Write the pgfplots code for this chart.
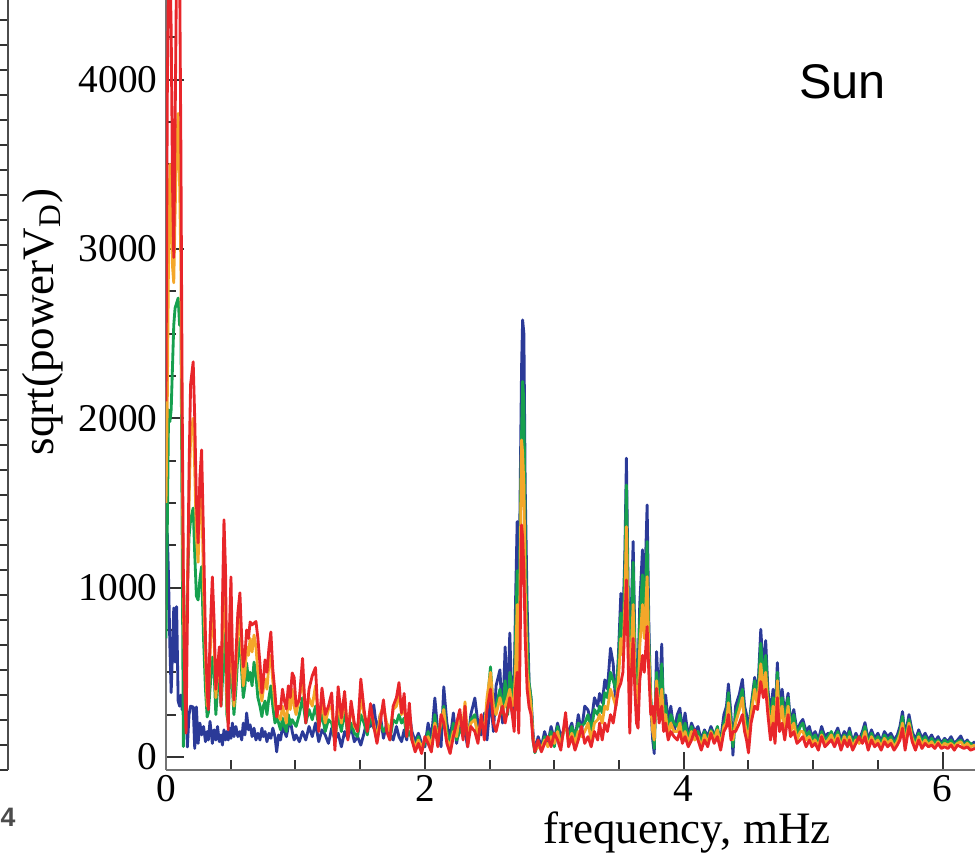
\documentclass[border=0pt]{standalone}
\usepackage{fontspec}
\setmainfont{Liberation Serif}
\newfontfamily\sunfont{Liberation Sans}
\usepackage{pgfplots}
\usepackage{pgfplotstable}
\pgfplotsset{compat=1.18}
\definecolor{cb}{HTML}{2B3A98}
\definecolor{cg}{HTML}{16A04E}
\definecolor{co}{HTML}{F4A72A}
\definecolor{cr}{HTML}{E8262A}
\pgfplotstableread{
x b g o r
0.000 900 700 1500 2100
0.010 1320 1350 2100 3900
0.020 1050 2050 3000 4700
0.030 650 1980 3500 4700
0.040 380 2050 3200 4300
0.050 620 2300 2900 3400
0.060 880 2550 2800 2950
0.070 560 2650 3200 3700
0.082 888 2680 3600 4700
0.094 330 2710 3800 4700
0.105 300 2550 3400 4700
0.115 366 2600 2900 3600
0.125 278 1300 1800 2100
0.134 330 61 900 1100
0.145 250 300 450 400
0.155 366 700 600 140
0.165 59 1000 1000 800
0.178 250 1300 1500 1700
0.190 300 1400 1900 2200
0.210 295 1470 2000 2333
0.222 50 1200 1700 2000
0.235 295 950 1300 1500
0.248 80 927 1150 1264
0.262 200 1050 1500 1650
0.275 130 1124 1650 1813
0.290 180 700 1000 1300
0.305 90 400 600 700
0.318 150 236 300 400
0.327 100 260 320 278
0.340 210 400 600 700
0.358 80 590 900 1063
0.372 160 500 700 800
0.385 100 250 350 400
0.398 180 400 500 520
0.412 90 560 600 650
0.425 130 300 350 300
0.436 70 450 700 900
0.448 160 732 1100 1400
0.460 100 600 900 1100
0.470 150 250 300 400
0.481 100 200 200 160
0.492 170 550 700 800
0.502 110 700 900 1063
0.513 200 400 500 600
0.525 120 250 300 337
0.540 180 400 500 600
0.555 120 600 750 850
0.571 150 700 850 969
0.585 100 500 600 700
0.597 200 350 420 532
0.610 130 420 500 600
0.623 260 555 650 750
0.637 160 450 600 700
0.650 190 500 700 797
0.665 120 420 620 780
0.680 170 560 720 790
0.695 100 480 650 800
0.710 140 350 500 700
0.726 100 300 400 550
0.741 170 238 330 378
0.752 120 300 400 450
0.765 150 330 460 573
0.780 90 250 400 500
0.795 140 350 550 640
0.810 110 420 600 738
0.825 170 300 450 520
0.842 120 200 300 380
0.855 30 240 260 236
0.870 130 200 240 300
0.885 100 160 220 283
0.900 180 230 300 400
0.915 150 180 250 330
0.930 120 150 200 283
0.945 180 250 350 420
0.960 220 190 280 350
0.975 150 220 400 496
0.990 100 200 300 470
1.005 130 180 250 300
1.030 90 250 350 337
1.055 150 350 450 582
1.080 100 200 250 200
1.105 180 280 348 400
1.130 120 220 300 480
1.155 200 300 420 528
1.180 90 180 200 150
1.205 160 250 320 407
1.230 130 150 200 250
1.255 80 220 280 300
1.280 170 200 300 378
1.305 100 100 80 40
1.330 140 250 330 415
1.355 60 150 200 230
1.380 150 280 350 387
1.405 110 120 150 100
1.430 180 200 300 330
1.455 90 140 180 200
1.480 120 120 160 150
1.505 70 250 350 460
1.530 140 200 250 280
1.555 220 130 180 150
1.580 180 250 280 315
1.605 307 170 200 180
1.630 150 140 100 80
1.655 250 200 250 200
1.680 110 150 300 337
1.705 200 180 200 150
1.730 140 100 150 100
1.755 100 220 280 300
1.780 180 200 300 350
1.800 120 250 380 439
1.820 90 200 250 260
1.840 160 230 300 375
1.860 100 120 150 120
1.880 260 150 250 318
1.900 150 100 120 100
1.925 90 60 50 30
1.950 140 120 100 80
1.975 80 40 60 20
2.000 60 80 100 120
2.025 200 150 120 80
2.050 100 40 60 30
2.077 348 250 200 180
2.100 150 100 120 60
2.125 60 180 200 250
2.146 414 300 280 200
2.170 200 150 100 80
2.195 100 80 60 20
2.220 260 200 150 120
2.245 80 100 120 200
2.270 200 150 250 280
2.295 120 180 200 100
2.310 150 250 325 300
2.330 60 100 120 60
2.355 250 220 200 180
2.386 348 250 220 150
2.410 200 100 130 80
2.435 130 200 220 250
2.460 260 180 150 100
2.480 100 300 350 280
2.507 350 532 500 400
2.530 150 250 300 200
2.550 420 300 250 150
2.580 514 400 350 250
2.600 200 250 280 300
2.620 650 450 300 200
2.640 300 250 350 280
2.656 732 500 400 350
2.675 250 400 300 250
2.690 400 300 350 150
2.700 900 700 500 400
2.713 1390 1100 900 500
2.725 700 600 400 140
2.735 1500 1300 1000 600
2.747 2300 1900 1872 1370
2.755 2581 2217 1800 1300
2.765 2500 2100 1600 1100
2.775 1600 1300 1000 700
2.790 900 700 500 400
2.805 437 437 400 295
2.820 350 350 300 250
2.835 150 100 120 100
2.850 30 25 40 30
2.875 120 80 60 100
2.900 60 40 50 30
2.925 150 120 100 80
2.950 80 100 60 120
2.975 180 150 120 60
3.000 100 60 80 140
3.025 200 180 150 100
3.050 120 80 60 40
3.087 180 200 220 262
3.110 150 100 80 60
3.135 200 180 140 120
3.160 100 120 80 40
3.185 250 200 150 100
3.210 150 180 120 180
3.235 300 200 150 80
3.260 278 250 200 120
3.285 200 150 100 60
3.310 350 280 200 150
3.335 300 250 220 100
3.350 375 300 250 200
3.370 320 260 200 100
3.390 455 380 300 200
3.410 400 350 280 150
3.434 642 500 400 250
3.455 550 450 350 200
3.475 300 400 300 300
3.495 600 550 450 400
3.514 966 850 700 437
3.530 800 700 600 500
3.545 1200 1100 900 800
3.557 1764 1606 1360 1045
3.570 1000 900 700 600
3.583 400 400 300 140
3.596 900 800 650 500
3.609 1272 1150 900 700
3.622 700 600 500 400
3.635 300 300 250 200
3.647 500 450 300 170
3.660 900 800 650 450
3.681 1223 1075 900 600
3.695 900 800 700 500
3.717 1488 1272 1065 770
3.730 800 700 600 500
3.745 300 350 300 250
3.760 100 200 150 300
3.772 20 50 100 200
3.790 622 500 450 405
3.810 300 300 250 200
3.830 667 550 400 300
3.845 200 250 200 150
3.860 366 300 250 200
3.880 200 150 120 100
3.900 300 250 200 150
3.925 150 200 150 120
3.950 250 180 150 100
3.970 288 250 200 150
3.990 150 120 100 80
4.010 260 200 150 120
4.035 120 100 80 60
4.060 200 180 150 100
4.085 150 120 100 160
4.110 180 150 120 100
4.135 100 80 60 40
4.160 160 150 130 100
4.185 120 100 80 60
4.210 180 160 150 140
4.235 130 120 100 80
4.260 150 180 160 120
4.285 100 80 60 40
4.310 250 200 180 150
4.330 300 250 200 180
4.345 431 380 320 250
4.365 250 200 150 100
4.380 10 60 100 150
4.400 300 250 200 150
4.430 372 330 280 200
4.453 458 400 350 250
4.470 300 250 200 150
4.485 250 200 150 100
4.500 150 120 80 24
4.520 300 280 250 200
4.548 470 450 400 300
4.570 350 330 300 280
4.595 754 671 550 445
4.615 500 450 400 350
4.633 687 600 500 400
4.650 400 350 300 250
4.670 250 200 150 100
4.690 400 350 300 200
4.705 200 150 100 80
4.723 557 500 450 350
4.740 300 250 200 150
4.760 400 350 300 200
4.780 250 200 150 100
4.806 376 350 300 250
4.825 200 180 150 120
4.850 280 250 200 150
4.875 150 130 100 80
4.900 200 180 150 100
4.920 222 200 150 120
4.945 150 120 100 60
4.970 180 150 120 100
4.990 120 100 80 60
5.015 150 130 100 80
5.040 100 80 60 40
5.065 180 150 130 120
5.090 120 100 80 60
5.115 140 120 100 80
5.140 100 150 130 100
5.165 130 100 80 60
5.190 171 150 130 110
5.215 100 80 60 40
5.240 150 130 120 100
5.265 120 100 80 60
5.280 171 150 120 100
5.305 90 80 60 40
5.330 140 120 100 80
5.355 100 90 80 120
5.380 150 130 100 80
5.400 203 180 150 120
5.425 100 80 60 40
5.450 160 140 120 100
5.475 110 90 80 60
5.500 140 120 100 80
5.525 90 80 60 40
5.550 150 130 110 90
5.575 120 100 80 60
5.600 140 120 100 80
5.625 100 80 60 40
5.650 130 110 90 70
5.670 180 150 130 100
5.690 268 240 200 170
5.710 120 100 80 40
5.740 250 222 200 180
5.765 150 130 110 90
5.790 100 80 60 40
5.815 160 140 120 100
5.840 110 90 70 50
5.865 140 120 100 80
5.890 100 80 70 60
5.915 130 110 90 70
5.940 90 80 60 50
5.965 120 100 90 80
5.990 80 70 60 50
6.015 110 100 80 60
6.040 90 80 70 50
6.065 120 100 80 70
6.090 80 70 60 40
6.115 100 90 80 70
6.140 124 100 90 60
6.165 80 70 60 50
6.190 100 90 80 60
6.215 70 80 60 40
6.250 90 60 70 50
}\spec

\begin{document}
\begin{tikzpicture}
\path[use as bounding box, clip] (-49.8pt,-25.2pt) rectangle (242.7pt,231pt);
% fragment of the neighbouring panel
\begin{axis}[at={(-47.4pt,0pt)}, anchor=south east, scale only axis,
  width=50pt, height=231pt, xmin=0, xmax=4, ymin=0, ymax=30.8,
  axis y line=right, axis x line=none, ytick distance=1, yticklabels={},
  tick align=inside, major tick length=2.4pt,
  axis line style={-, draw=black!70, line width=0.6pt},
  tick style={black!80, line width=0.5pt},
  clip=false]
  \node[anchor=north, font=\sunfont\bfseries\fontsize{8}{9}\selectfont, text=black!70] at ([yshift=-8pt]rel axis cs:1,0) {4};
\end{axis}
\begin{axis}[at={(0pt,0pt)}, anchor=south west, scale only axis,
  width=242.7pt, height=231pt,
  xmin=0, xmax=6.25, ymin=-77, ymax=4470,
  axis lines=left, axis line style={-, draw=black!55, line width=0.8pt},
  tick align=inside,
  xtick={0,2,4,6}, minor xtick={0.5,1,1.5,2.5,3,3.5,4.5,5,5.5},
  ytick={0,1000,2000,3000,4000}, minor ytick={250,500,750,1250,1500,1750,2250,2500,2750,3250,3500,3750,4250},
  major tick length=5.5pt, minor tick length=3pt,
  tick style={black!80, line width=0.6pt},
  ticklabel style={font=\fontsize{11.8}{14}\selectfont},
  yticklabel style={xshift=1pt},
  xticklabel style={yshift=1.8pt},
  /pgf/number format/assume math mode=true,
  /pgf/number format/1000 sep={},
  scaled y ticks=false,
  xlabel={frequency, mHz}, ylabel={sqrt(powerV\textsubscript{D})},
  label style={font=\fontsize{13.5}{16}\selectfont},
  xlabel style={at={(rel axis cs:0.644,0)}, anchor=north, yshift=-9pt},
  ylabel style={at={([xshift=-37pt]rel axis cs:0,0.582)}, anchor=center},
  every axis plot/.append style={line width=0.85pt, line join=round, no markers}]
  \addplot[cb] table[x=x, y=b] {\spec};
  \addplot[cg] table[x=x, y=g] {\spec};
  \addplot[co] table[x=x, y=o] {\spec};
  \addplot[cr] table[x=x, y=r] {\spec};
  \node[font=\sunfont\fontsize{14.6}{17}\selectfont] at (rel axis cs:0.836,0.894) {Sun};
\end{axis}
\end{tikzpicture}
\end{document}
